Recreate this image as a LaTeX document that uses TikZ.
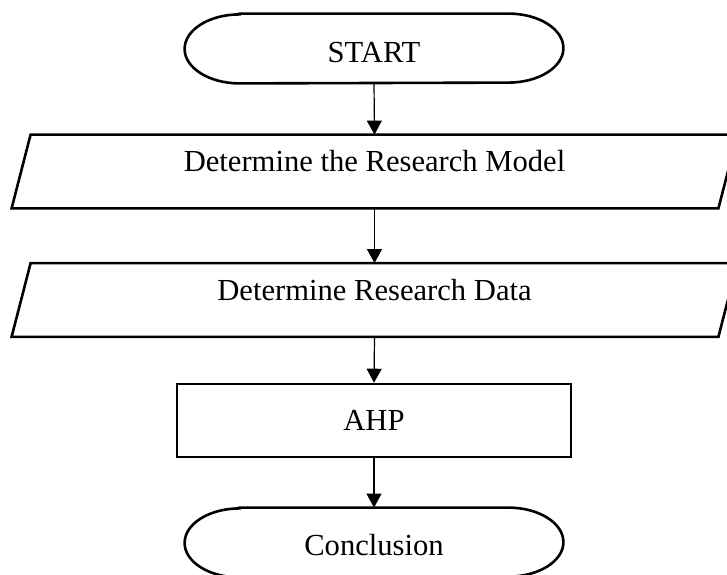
\documentclass[tikz,border=0pt]{standalone}
\usepackage{fontspec}
\setmainfont{Liberation Serif}
\usetikzlibrary{arrows.meta}
\tikzset{
  term/.style={
    rectangle, draw=none,
    minimum width=189pt, minimum height=34.5pt,
    inner sep=0pt, font=\fontsize{15.3pt}{18pt}\selectfont,
  },
  edge line/.style={line width=1.3pt, line join=miter},
  io/.style={
    rectangle, draw=none,
    minimum width=353pt, minimum height=36.5pt,
    inner sep=0pt, font=\fontsize{15.3pt}{18pt}\selectfont,
  },
  proc/.style={
    rectangle, draw, line width=1.3pt,
    minimum width=197pt, minimum height=36.5pt,
    inner sep=0pt, font=\fontsize{15.3pt}{18pt}\selectfont,
  },
  arr/.style={
    -{Triangle[length=7pt,width=7.5pt]},
    line width=0.6pt,
  },
}
% elliptic ends of a terminal node
\newcommand{\termedge}[1]{%
  \draw[edge line] ([xshift=27.5pt]#1.north west) -- ([xshift=-27.5pt]#1.north east)
    arc[start angle=90, end angle=-90, x radius=27.5pt, y radius=17.25pt]
    -- ([xshift=27.5pt]#1.south west)
    arc[start angle=270, end angle=90, x radius=27.5pt, y radius=17.25pt] -- cycle;}
% slanted sides of an input/output node
\newcommand{\ioedge}[1]{%
  \draw[edge line] ([xshift=4.75pt]#1.north west) -- ([xshift=4.75pt]#1.north east)
    -- ([xshift=-4.75pt]#1.south east) -- ([xshift=-4.75pt]#1.south west) -- cycle;}

\begin{document}
\begin{tikzpicture}[x=0.5pt,y=-0.5pt]
  \useasboundingbox (0,0) rectangle (727,574);
  \node[term](start) at (374,48.5) {\raisebox{-2pt}[\height][\depth]{START}};
  \termedge{start}
  \node[io](model) at (374.5,171.5) {\raisebox{5pt}[\height][\depth]{Determine the Research Model}};
  \ioedge{model}
  \node[io](data)  at (374.5,300)   {\raisebox{5pt}[\height][\depth]{Determine Research Data}};
  \ioedge{data}
  \node[proc](ahp) at (374,420.5) {AHP};
  \node[term](concl) at (374,542.5) {\raisebox{-1.5pt}[\height][\depth]{Conclusion}};
  \termedge{concl}
  \draw[arr](start.south)--(model.north); \draw[arr](model.south)--(data.north);
  \draw[arr](data.south)--(ahp.north); \draw[arr](ahp.south)--(concl.north);
\end{tikzpicture}
\end{document}
